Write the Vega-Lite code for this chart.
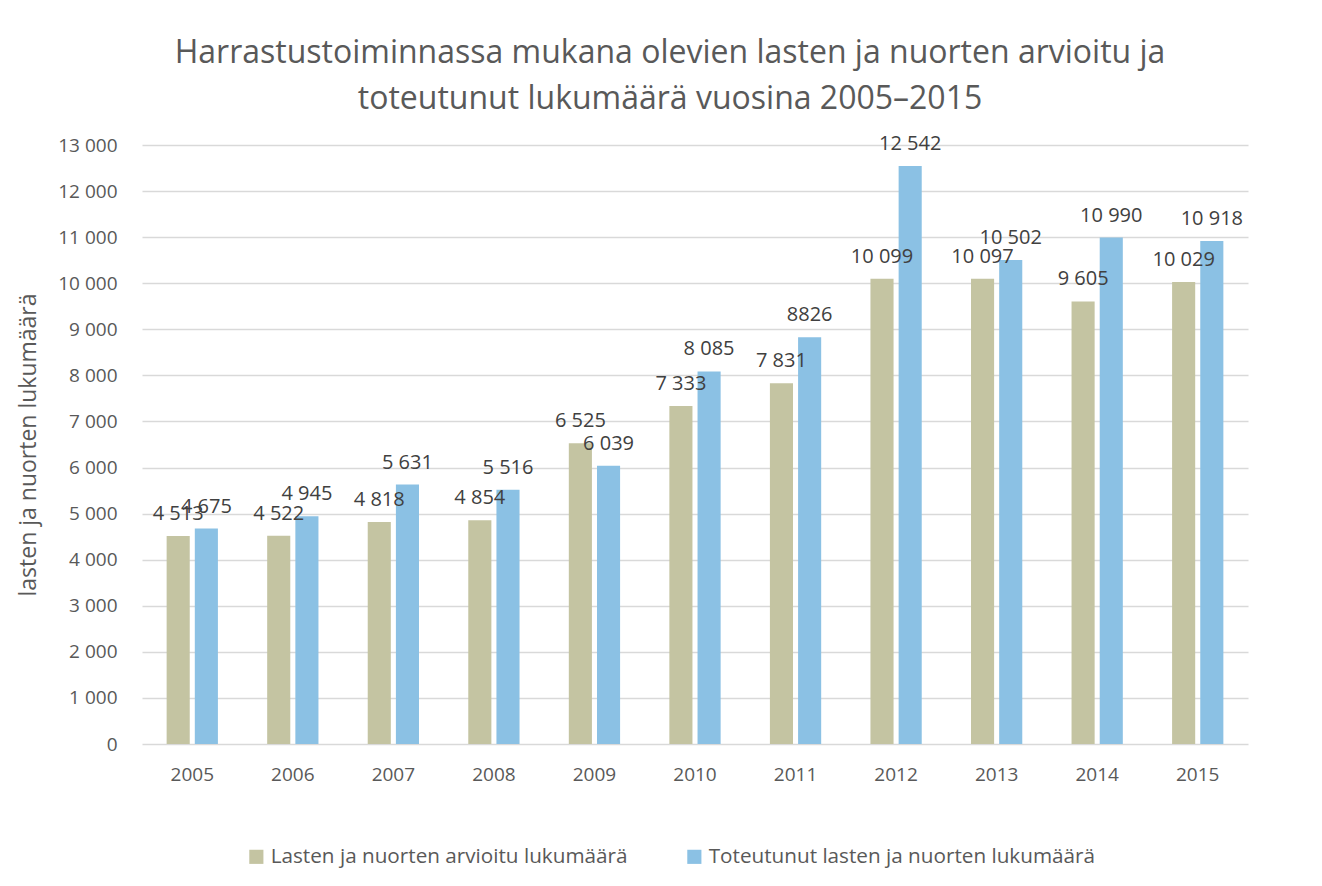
{
  "$schema": "https://vega.github.io/schema/vega-lite/v6.json",
  "autosize": {"type": "none"},
  "width": 1106,
  "height": 599,
  "padding": {"left": 142, "top": 145, "right": 74, "bottom": 142},
  "background": "white",
  "config": {"view": {"stroke": null}},
  "title": {
    "text": ["Harrastustoiminnassa mukana olevien lasten ja nuorten arvioitu ja", "toteutunut lukumäärä vuosina 2005–2015"],
    "anchor": "middle",
    "dx": -25,
    "offset": 18,
    "font": "Open Sans",
    "fontSize": 32,
    "fontWeight": "normal",
    "color": "#595959",
    "lineHeight": 46
  },
  "data": {
    "values": [
      {"year": "2005", "series": "Lasten ja nuorten arvioitu lukumäärä", "value": 4513, "label": "4 513"},
      {"year": "2005", "series": "Toteutunut lasten ja nuorten lukumäärä", "value": 4675, "label": "4 675"},
      {"year": "2006", "series": "Lasten ja nuorten arvioitu lukumäärä", "value": 4522, "label": "4 522"},
      {"year": "2006", "series": "Toteutunut lasten ja nuorten lukumäärä", "value": 4945, "label": "4 945"},
      {"year": "2007", "series": "Lasten ja nuorten arvioitu lukumäärä", "value": 4818, "label": "4 818"},
      {"year": "2007", "series": "Toteutunut lasten ja nuorten lukumäärä", "value": 5631, "label": "5 631"},
      {"year": "2008", "series": "Lasten ja nuorten arvioitu lukumäärä", "value": 4854, "label": "4 854"},
      {"year": "2008", "series": "Toteutunut lasten ja nuorten lukumäärä", "value": 5516, "label": "5 516"},
      {"year": "2009", "series": "Lasten ja nuorten arvioitu lukumäärä", "value": 6525, "label": "6 525"},
      {"year": "2009", "series": "Toteutunut lasten ja nuorten lukumäärä", "value": 6039, "label": "6 039"},
      {"year": "2010", "series": "Lasten ja nuorten arvioitu lukumäärä", "value": 7333, "label": "7 333"},
      {"year": "2010", "series": "Toteutunut lasten ja nuorten lukumäärä", "value": 8085, "label": "8 085"},
      {"year": "2011", "series": "Lasten ja nuorten arvioitu lukumäärä", "value": 7831, "label": "7 831"},
      {"year": "2011", "series": "Toteutunut lasten ja nuorten lukumäärä", "value": 8826, "label": "8826"},
      {"year": "2012", "series": "Lasten ja nuorten arvioitu lukumäärä", "value": 10099, "label": "10 099"},
      {"year": "2012", "series": "Toteutunut lasten ja nuorten lukumäärä", "value": 12542, "label": "12 542"},
      {"year": "2013", "series": "Lasten ja nuorten arvioitu lukumäärä", "value": 10097, "label": "10 097"},
      {"year": "2013", "series": "Toteutunut lasten ja nuorten lukumäärä", "value": 10502, "label": "10 502"},
      {"year": "2014", "series": "Lasten ja nuorten arvioitu lukumäärä", "value": 9605, "label": "9 605"},
      {"year": "2014", "series": "Toteutunut lasten ja nuorten lukumäärä", "value": 10990, "label": "10 990"},
      {"year": "2015", "series": "Lasten ja nuorten arvioitu lukumäärä", "value": 10029, "label": "10 029"},
      {"year": "2015", "series": "Toteutunut lasten ja nuorten lukumäärä", "value": 10918, "label": "10 918"}
    ]
  },
  "encoding": {
    "x": {
      "field": "year", "type": "nominal",
      "scale": {"paddingInner": 0.49, "paddingOuter": 0.245},
      "axis": {
        "title": null, "labelAngle": 0, "ticks": false, "domain": false,
        "labelFont": "Open Sans", "labelFontSize": 19, "labelColor": "#595959", "labelPadding": 21
      }
    },
    "xOffset": {
      "field": "series", "type": "nominal",
      "scale": {"paddingInner": 0.18, "paddingOuter": 0}
    },
    "y": {
      "field": "value", "type": "quantitative",
      "scale": {"domain": [0, 13000], "nice": false},
      "axis": {
        "title": "lasten ja nuorten lukumäärä",
        "titleFont": "Open Sans", "titleFontSize": 23, "titleFontWeight": "normal", "titleColor": "#595959",
        "titlePadding": 17,
        "values": [0,1000,2000,3000,4000,5000,6000,7000,8000,9000,10000,11000,12000,13000],
        "labelExpr": "replace(format(datum.value, ',d'), ',', ' ')",
        "labelFont": "Open Sans", "labelFontSize": 19, "labelColor": "#595959", "labelPadding": 25,
        "ticks": false, "domain": false,
        "grid": true, "gridColor": "#d9d9d9", "gridWidth": 1.5
      }
    }
  },
  "layer": [
    {
      "mark": {"type": "bar"},
      "encoding": {
        "color": {
          "field": "series", "type": "nominal",
          "scale": {
            "domain": ["Lasten ja nuorten arvioitu lukumäärä", "Toteutunut lasten ja nuorten lukumäärä"],
            "range": ["#c4c4a2", "#8bc1e4"]
          },
          "legend": {
            "title": null, "orient": "none", "direction": "horizontal",
            "legendX": 104, "legendY": 701,
            "symbolType": "square", "symbolSize": 200, "symbolStrokeWidth": 0,
            "labelFont": "Open Sans", "labelFontSize": 20.7, "labelColor": "#595959",
            "columnPadding": 56, "labelOffset": 4, "labelLimit": 600
          }
        }
      }
    },
    {
      "mark": {"type": "text", "baseline": "bottom", "dy": -12, "font": "Open Sans", "fontSize": 20, "color": "#404040"},
      "encoding": {
        "text": {"field": "label"}
      }
    }
  ]
}
